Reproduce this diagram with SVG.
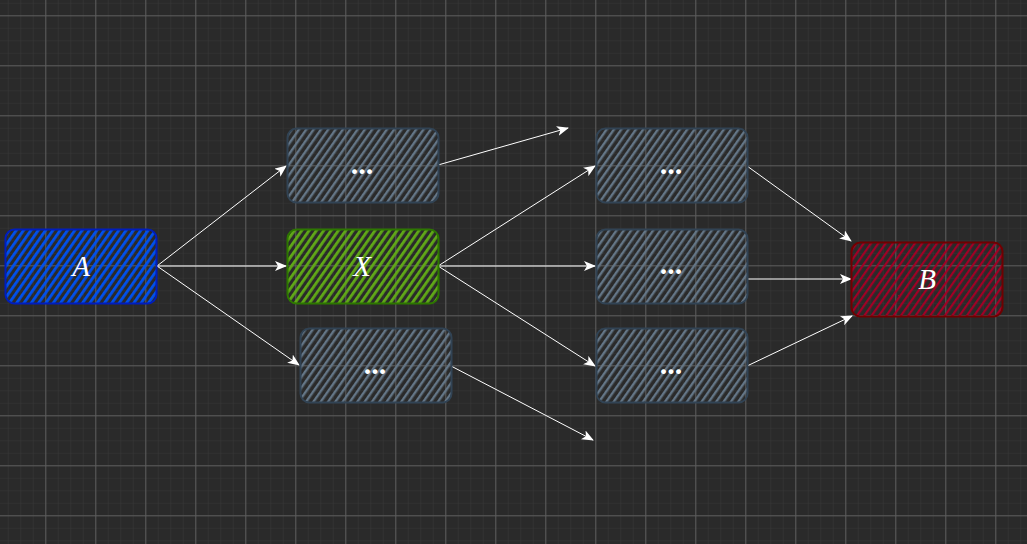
<svg xmlns="http://www.w3.org/2000/svg" width="1027" height="544" viewBox="0 0 1027 544">
<defs>
<pattern id="minor" x="7.8" y="2.8" width="12.5" height="12.5" patternUnits="userSpaceOnUse">
<path d="M0 0H12.5M0 0V12.5" stroke="#383838" stroke-width="1" fill="none"/>
</pattern>
<pattern id="major" x="45.3" y="15.3" width="50" height="50" patternUnits="userSpaceOnUse">
<path d="M0 0.5H50M0.5 0V50" stroke="#5c5c5c" stroke-width="1" fill="none"/>
</pattern>
<pattern id="hBlue" width="6" height="6" patternUnits="userSpaceOnUse" patternTransform="rotate(35)">
<rect x="0" y="0" width="2.8" height="6" fill="#0050ef"/>
</pattern>
<pattern id="hGray" width="6" height="6" patternUnits="userSpaceOnUse" patternTransform="rotate(35)">
<rect x="0" y="0" width="2.4" height="6" fill="#647687"/>
</pattern>
<pattern id="hGreen" width="6" height="6" patternUnits="userSpaceOnUse" patternTransform="rotate(35)">
<rect x="0" y="0" width="2.8" height="6" fill="#60a917"/>
</pattern>
<pattern id="hRed" width="6" height="6" patternUnits="userSpaceOnUse" patternTransform="rotate(35)">
<rect x="0" y="0" width="2.2" height="6" fill="#a20025"/>
</pattern>
<marker id="arr" viewBox="0 0 12 10" refX="11" refY="5" markerWidth="12" markerHeight="10" markerUnits="userSpaceOnUse" orient="auto">
<path d="M0 0L12 5L0 10L3 5Z" fill="#ffffff"/>
</marker>
</defs>
<style>
.lbl{font-family:"Liberation Serif","DejaVu Serif",serif;font-style:italic;font-size:29px;fill:#ffffff;text-anchor:middle}
.dots{font-family:"Liberation Serif","DejaVu Serif",serif;font-weight:bold;font-size:30px;fill:#ffffff;text-anchor:middle}
.edge{stroke:#ffffff;stroke-width:1;fill:none}
.box{stroke-width:2}
</style>
<rect width="1027" height="544" fill="#2a2a2a"/>
<rect width="1027" height="544" fill="url(#minor)"/>
<rect width="1027" height="544" fill="url(#major)"/>

<g id="connectors">
<path class="edge" d="M157 266L286 166" marker-end="url(#arr)"/>
<path class="edge" d="M157 266L286 266" marker-end="url(#arr)"/>
<path class="edge" d="M157 266L299 365" marker-end="url(#arr)"/>
<path class="edge" d="M438 165L568 128" marker-end="url(#arr)"/>
<path class="edge" d="M438 266L595 166" marker-end="url(#arr)"/>
<path class="edge" d="M438 266L595 266" marker-end="url(#arr)"/>
<path class="edge" d="M438 266L595 366" marker-end="url(#arr)"/>
<path class="edge" d="M451 366L593 440" marker-end="url(#arr)"/>
<path class="edge" d="M747 166L851 241" marker-end="url(#arr)"/>
<path class="edge" d="M747 279L851 279" marker-end="url(#arr)"/>
<path class="edge" d="M747 366L852 316" marker-end="url(#arr)"/>
</g>

<g id="node-A">
<rect class="box" x="5.5" y="229.5" width="151" height="74" rx="9" fill="url(#hBlue)" stroke="#001dbc"/>
<text class="lbl" x="81" y="276">A</text>
</g>
<g id="node-top">
<rect class="box" x="287.5" y="128.5" width="151" height="74" rx="9" fill="url(#hGray)" stroke="#314354"/>
<text class="dots" x="362" y="174">...</text>
</g>
<g id="node-X">
<rect class="box" x="287.5" y="229.5" width="151" height="74" rx="9" fill="url(#hGreen)" stroke="#2d7600"/>
<text class="lbl" x="362" y="276">X</text>
</g>
<g id="node-bottom">
<rect class="box" x="300.5" y="328.5" width="151" height="74" rx="9" fill="url(#hGray)" stroke="#314354"/>
<text class="dots" x="375" y="374">...</text>
</g>
<g id="node-r1">
<rect class="box" x="596.5" y="128.5" width="151" height="74" rx="9" fill="url(#hGray)" stroke="#314354"/>
<text class="dots" x="671" y="174">...</text>
</g>
<g id="node-r2">
<rect class="box" x="596.5" y="229.5" width="151" height="74" rx="9" fill="url(#hGray)" stroke="#314354"/>
<text class="dots" x="671" y="274">...</text>
</g>
<g id="node-r3">
<rect class="box" x="596.5" y="328.5" width="151" height="74" rx="9" fill="url(#hGray)" stroke="#314354"/>
<text class="dots" x="671" y="374">...</text>
</g>
<g id="node-B">
<rect class="box" x="851.5" y="242.5" width="151" height="74" rx="9" fill="url(#hRed)" stroke="#6f0000"/>
<text class="lbl" x="927" y="289">B</text>
</g>
</svg>
